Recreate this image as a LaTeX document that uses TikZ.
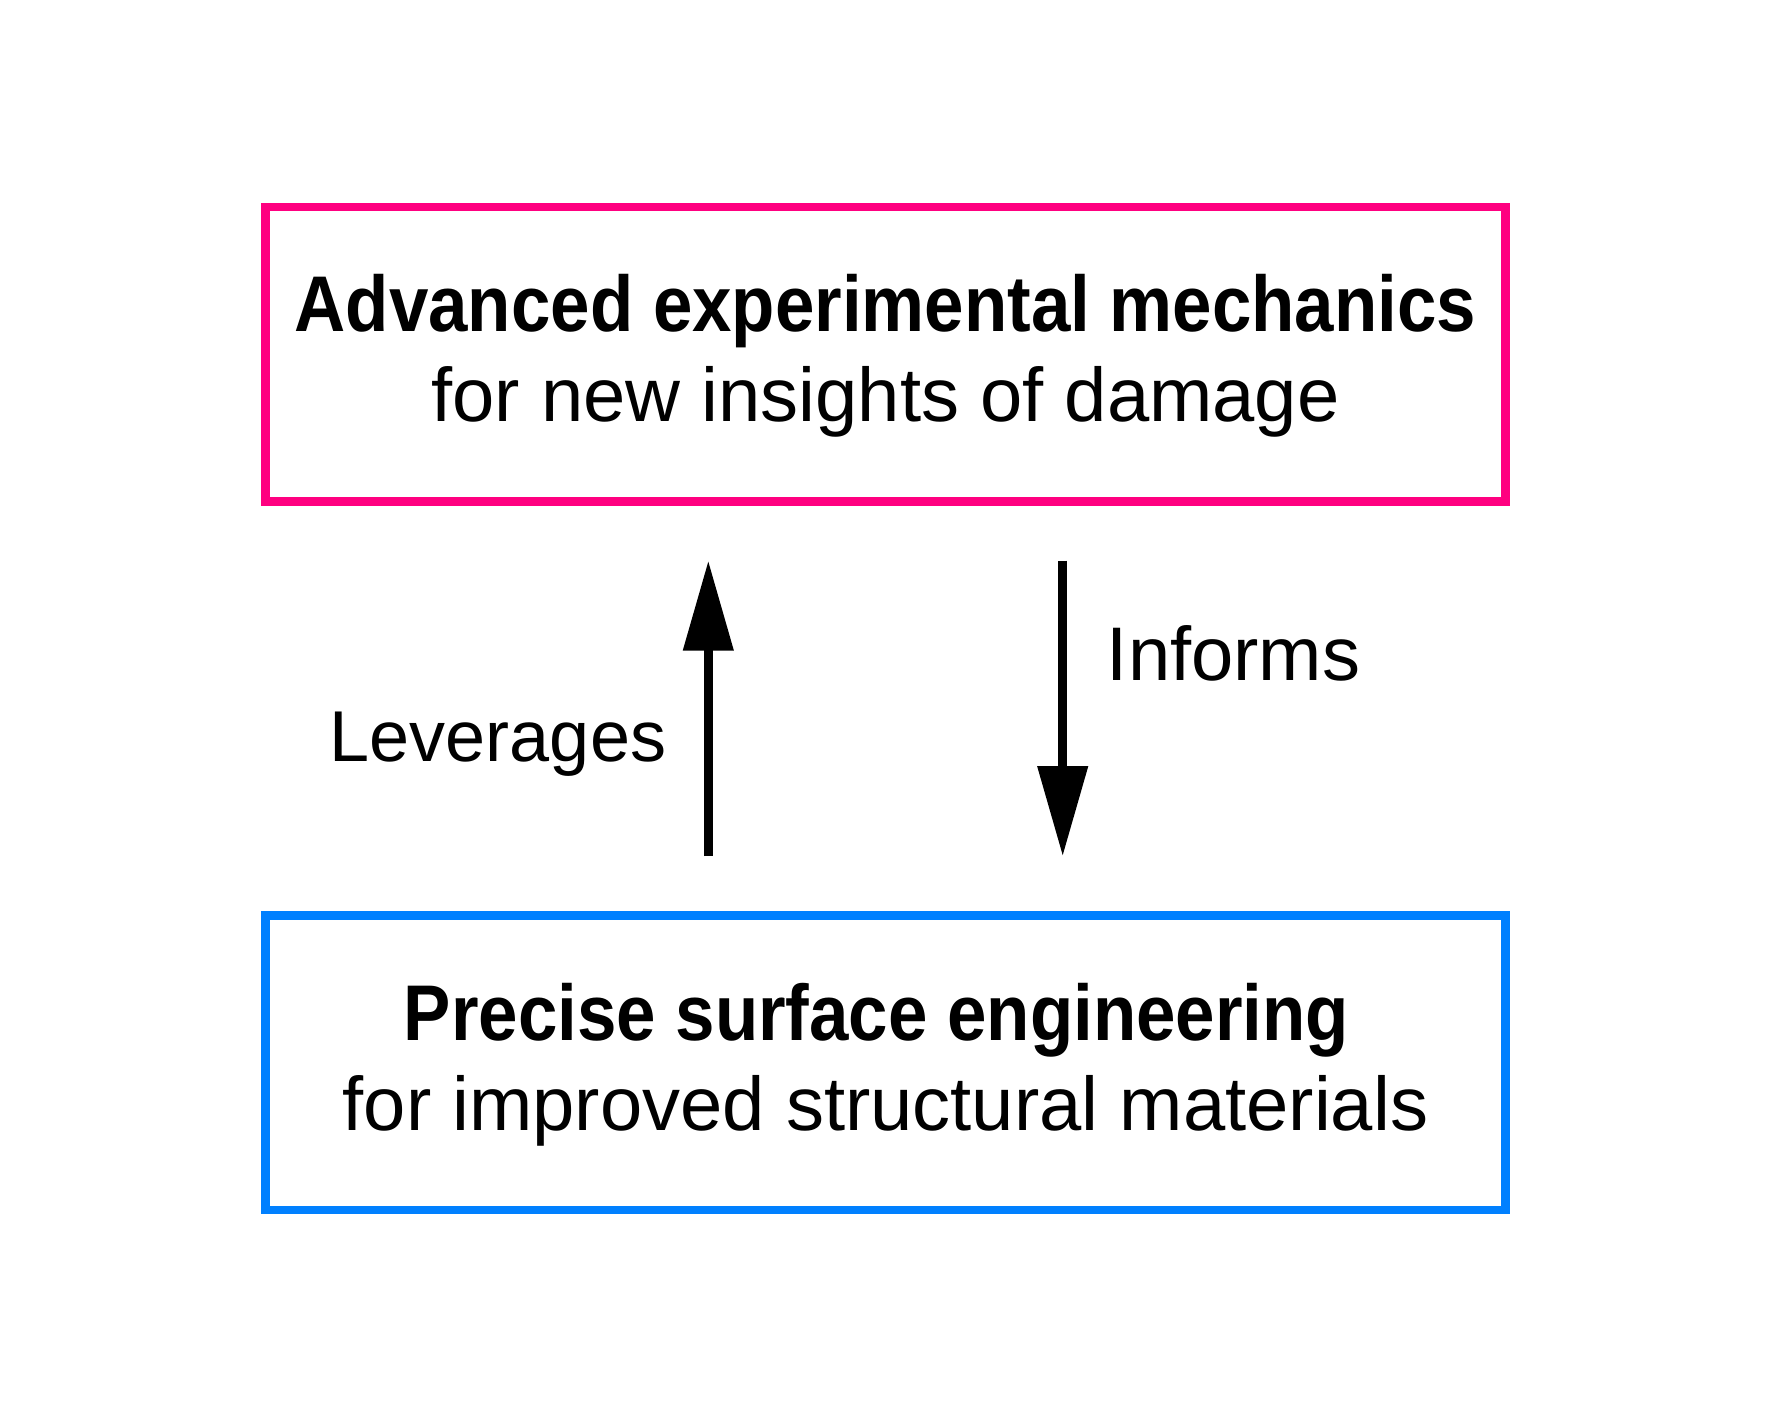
\documentclass[tikz,border=0pt]{standalone}
\usepackage{fontspec}
\setmainfont{Liberation Sans}
\newfontfamily\bnarrow{Liberation Sans}[FakeStretch=0.897]
\usetikzlibrary{arrows.meta,calc}
\definecolor{pinkc}{RGB}{255,0,128}
\definecolor{bluec}{RGB}{0,128,255}
\begin{document}
\begin{tikzpicture}[x=0.5pt,y=-0.5pt,
  boxst/.style={draw,line width=4.15pt,minimum width=620pt,minimum height=147.4pt,inner sep=0pt,outer sep=0pt},
  titlest/.style={inner sep=0pt,anchor=base,font=\bnarrow\bfseries\fontsize{39.5}{45}\selectfont},
  subst/.style={inner sep=0pt,anchor=base,font=\fontsize{38}{45}\selectfont},
  arr/.style={line width=4.35pt,-{Triangle[length=45pt,width=24.35pt]}},
  lab/.style={inner sep=0pt,font=\fontsize{36}{43}\selectfont}]
\useasboundingbox (0,0) rectangle (1772,1417);
\node[boxst,draw=pinkc] (top) at (885.5,354.1) {};
\node[boxst,draw=bluec] (bot) at (885.5,1062.75) {};
\node[titlest] (toptitle) at ($(top.center)+(0,-22.4)$) {Advanced experimental mechanics};
\node[subst] (topsub) at ($(top.center)+(0,67.6)$) {for new insights of damage};
\node[titlest] (bottitle) at ($(bot.center)+(-9,-22.75)$) {Precise surface engineering};
\node[subst] (botsub) at ($(bot.center)+(0,67.25)$) {for improved structural materials};
\draw[arr,shorten <=29.65pt,shorten >=29.6pt] ($(bot.north)+(-177.2,0)$) -- ($(top.south)+(-177.2,0)$);
\draw[arr,shorten <=29.6pt,shorten >=29.65pt] ($(top.south)+(177.2,0)$) -- ($(bot.north)+(177.2,0)$);
\node[lab,anchor=base east] (lev) at (666.5,761.7) {Leverages};
\node[lab,anchor=base west,font=\fontsize{38}{45}\selectfont] (inf) at (1106.5,680) {Informs};
\end{tikzpicture}
\end{document}
